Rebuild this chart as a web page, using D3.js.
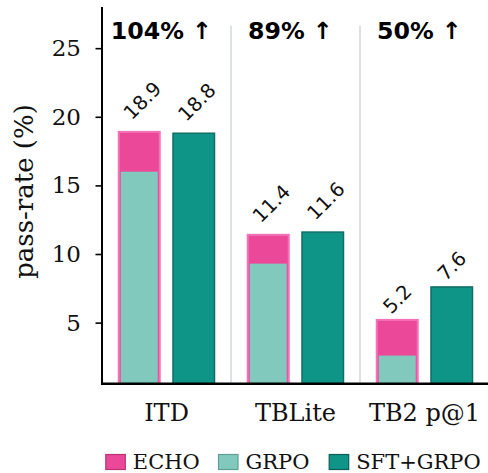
<!DOCTYPE html>
<html><head><meta charset="utf-8">
<script src="https://cdn.jsdelivr.net/npm/d3@7"></script>
<style>body{margin:0;background:#fff}svg{display:block}</style>
</head><body>
<svg id="c" width="488" height="473"></svg>
<script>
const categories = ["ITD", "TBLite", "TB2 p@1"];
const echoValues = [18.9, 11.4, 5.2];
const grpoValues = [16.0, 9.3, 2.6];
const sftGrpoValues = [18.8, 11.6, 7.6];
const gainLabels = ["104% \u2191", "89% \u2191", "50% \u2191"];
const yTicks = [5, 10, 15, 20, 25];
const seriesNames = ["ECHO", "GRPO", "SFT+GRPO"];

(function () {
const colors = {ECHO: "#ec4899", GRPO: "#80c9bc", "SFT+GRPO": "#0f9488"};
const edges = {ECHO: "#f472b6", GRPO: "#80c9bc", "SFT+GRPO": "#0f6e66"};
const legendEdges = {ECHO: "#b8346f", GRPO: "#5f9f95", "SFT+GRPO": "#0b5f58"};

const svg = d3.select("#c");
const pLeft = 102, pRight = 489, pTop = 7, pBottom = 383.7;
const x = d3.scaleBand().domain(categories).range([pLeft, pRight]).padding(0);
const sub = d3.scaleBand().domain(["left", "right"]).range([0, x.bandwidth()])
  .paddingInner(0.211).paddingOuter(0.289);
const y = d3.scaleLinear().domain([0.55, 28]).range([pBottom, pTop]);

const serif = "DejaVu Serif, serif";
const sans = "DejaVu Sans, sans-serif";

// separators
svg.selectAll(".sep").data(categories.slice(1)).enter().append("line")
  .attr("x1", d => x(d)).attr("x2", d => x(d))
  .attr("y1", 25.7).attr("y2", pBottom)
  .attr("stroke", "#d3d7db").attr("stroke-width", 1.5);

const bw = sub.bandwidth();
// ECHO bars
svg.selectAll(".echo").data(categories).enter().append("rect")
  .attr("x", (d) => x(d) + sub("left") + 1)
  .attr("width", bw - 2)
  .attr("y", (d, i) => y(echoValues[i]))
  .attr("height", (d, i) => pBottom - y(echoValues[i]))
  .attr("fill", colors.ECHO).attr("stroke", edges.ECHO).attr("stroke-width", 2);
// GRPO bars inside
const gw = bw * 0.86;
svg.selectAll(".grpo").data(categories).enter().append("rect")
  .attr("x", (d) => x(d) + sub("left") + (bw - gw) / 2)
  .attr("width", gw)
  .attr("y", (d, i) => y(grpoValues[i]))
  .attr("height", (d, i) => pBottom - y(grpoValues[i]))
  .attr("fill", colors.GRPO);
// SFT+GRPO bars
svg.selectAll(".sft").data(categories).enter().append("rect")
  .attr("x", (d) => x(d) + sub("right") + 0.75)
  .attr("width", bw - 1.5)
  .attr("y", (d, i) => y(sftGrpoValues[i]))
  .attr("height", (d, i) => pBottom - y(sftGrpoValues[i]))
  .attr("fill", colors["SFT+GRPO"]).attr("stroke", edges["SFT+GRPO"]).attr("stroke-width", 1.5);

// value labels rotated
function valueLabel(cx, v) {
  const t = svg.append("text").text(v.toFixed(1))
    .attr("font-family", sans).attr("font-size", 19.5).attr("fill", "#111")
    .attr("text-anchor", "middle").attr("dominant-baseline", "central");
  const L = t.node().getComputedTextLength();
  const up = 0.83 * L - 5;
  const dx = 0.25 * (L - 30);
  t.attr("transform", `translate(${cx + dx},${y(v) - up}) rotate(-45)`);
}
categories.forEach((c, i) => {
  valueLabel(x(c) + sub("left") + bw / 2, echoValues[i]);
  valueLabel(x(c) + sub("right") + bw / 2, sftGrpoValues[i]);
});

// gain labels
svg.selectAll(".gain").data(categories).enter().append("text")
  .attr("x", d => x(d) + x.bandwidth() / 2 - 5).attr("y", 39)
  .attr("text-anchor", "middle").attr("font-family", sans)
  .attr("font-weight", "bold").attr("font-size", 23.7).attr("fill", "#000")
  .text((d, i) => gainLabels[i]);

// axes
const yAxis = d3.axisLeft(y).tickValues(yTicks).tickSize(6.5).tickPadding(14.5).tickFormat(d3.format("d"));
const gy = svg.append("g").attr("transform", `translate(${pLeft},0)`).call(yAxis);
gy.select(".domain").remove();
gy.selectAll(".tick line").attr("stroke", "#000").attr("stroke-width", 1.6);
gy.selectAll(".tick text").attr("font-family", serif).attr("font-size", 23).attr("fill", "#111");

const xAxis = d3.axisBottom(x).tickSize(0).tickPadding(20);
const gx = svg.append("g").attr("transform", `translate(0,${pBottom})`).call(xAxis);
gx.select(".domain").remove();
gx.selectAll(".tick text").attr("font-family", serif).attr("font-size", 24).attr("fill", "#111");

svg.append("line").attr("x1", pLeft).attr("x2", pLeft).attr("y1", pTop).attr("y2", pBottom + 1)
  .attr("stroke", "#000").attr("stroke-width", 2);
svg.append("line").attr("x1", pLeft - 1).attr("x2", 488).attr("y1", pBottom).attr("y2", pBottom)
  .attr("stroke", "#000").attr("stroke-width", 2.5);

// y label
svg.append("text").attr("transform", `translate(33,191.5) rotate(-90)`)
  .attr("text-anchor", "middle").attr("font-family", serif).attr("font-size", 26).attr("fill", "#111")
  .text("pass-rate (%)");

// legend
const legendX = [105.3, 218, 328.7];
const lg = svg.selectAll(".lg").data(seriesNames).enter().append("g")
  .attr("transform", (d, i) => `translate(${legendX[i]},454)`);
lg.append("rect").attr("x", 0.5).attr("y", 0.5).attr("width", 19.5).attr("height", 15)
  .attr("fill", d => colors[d]).attr("stroke", d => legendEdges[d]).attr("stroke-width", 1.2);
lg.append("text").attr("x", 27.5).attr("y", 14.5).attr("font-family", serif).attr("font-size", 21)
  .attr("fill", "#111").text(d => d);
})();
</script>
</body></html>
